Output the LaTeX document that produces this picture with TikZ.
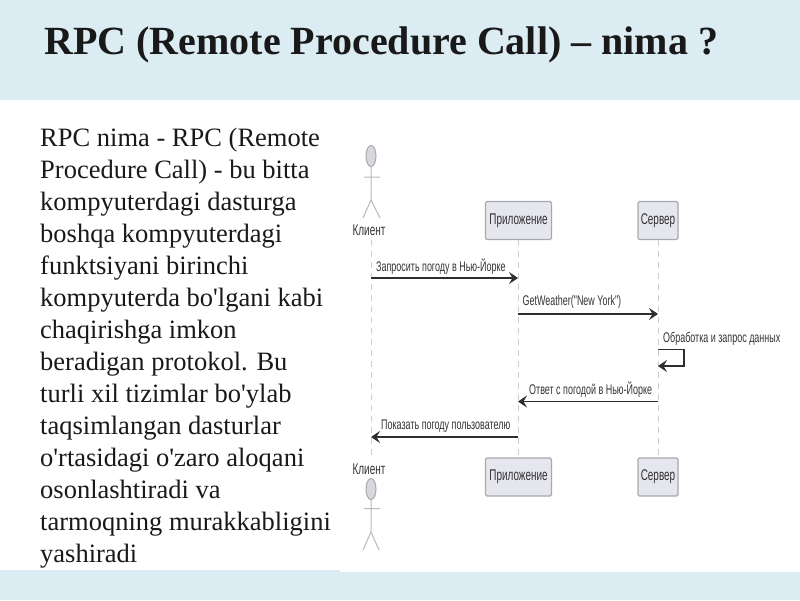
\documentclass[tikz,border=0pt]{standalone}
\usepackage{fontspec}
\setmainfont{Liberation Serif}
\newfontfamily\plainserif{Liberation Serif}
\newfontfamily\narrowsans[FakeStretch=0.64]{Liberation Sans}
\definecolor{band}{HTML}{DCECF3}
\definecolor{boxfill}{HTML}{E6E6EF}
\definecolor{boxedge}{HTML}{A8A8B0}
\definecolor{lifeline}{HTML}{CFCFCF}
\definecolor{seqtext}{HTML}{333333}
\definecolor{msgline}{HTML}{2E2E2E}
\tikzset{
  x=1pt,y=-1pt,
  seqbox/.style={draw=boxedge,fill=boxfill,rounded corners=1.5pt,line width=1.1pt,minimum height=38pt,inner sep=0pt,text=seqtext,font=\narrowsans\fontsize{15.5}{17}\selectfont},
  seqlabel/.style={text=seqtext,inner sep=0pt,font=\narrowsans\fontsize{14}{16}\selectfont},
  actorname/.style={text=seqtext,inner sep=0pt,font=\narrowsans\fontsize{15.5}{17}\selectfont},
  actorline/.style={draw=boxedge!80,line width=1pt},
  head/.style={draw=boxedge,fill=boxfill!70!gray!70,ellipse,minimum width=10pt,minimum height=21pt,inner sep=0pt,line width=1pt},
  life/.style={draw=lifeline,line width=1pt,dash pattern=on 6pt off 5pt},
  msg/.style={draw=msgline,line width=1.4pt,-{Stealth[length=9pt,width=12pt,inset=3.5pt]}},
}
\usetikzlibrary{arrows.meta,shapes.geometric}
\begin{document}
\begin{tikzpicture}
\useasboundingbox (0,0) rectangle (800,600);
\fill[band] (0,0) rectangle (800,600);
\fill[white] (0,100) rectangle (800,570);
\fill[white] (340,570) rectangle (800,572);
\node[anchor=west,inner sep=0pt,font=\bfseries\fontsize{40}{46}\selectfont,text=black!90] (title) at (44,45) {RPC (Remote Procedure Call) – nima ?};
\node[anchor=north west,inner sep=0pt,align=left,text=black!90,font=\plainserif\fontsize{26.5}{32}\selectfont] (body) at (40,128) {RPC nima - RPC (Remote\\Procedure Call) - bu bitta\\kompyuterdagi dasturga\\boshqa kompyuterdagi\\funktsiyani birinchi\\kompyuterda bo'lgani kabi\\chaqirishga imkon\\beradigan protokol. Bu\\turli xil tizimlar bo'ylab\\taqsimlangan dasturlar\\o'rtasidagi o'zaro aloqani\\osonlashtiradi va\\tarmoqning murakkabligini\\yashiradi};
% top client actor
\node[head] (headT) at (371,156) {};
\coordinate (armLT) at (364,177);
\coordinate (armRT) at (380,177);
\coordinate (hipT) at (371,200);
\coordinate (legLT) at (363,218);
\coordinate (legRT) at (380,218);
\draw[actorline] (headT.south) -- (hipT) -- (legLT) (hipT) -- (legRT) (armLT) -- (armRT);
\node[actorname] (clientT) at (369,230) {Клиент};
% bottom client actor
\node[actorname] (clientB) at (369,469) {Клиент};
\node[head] (headB) at (371,489) {};
\coordinate (armLB) at (364,508.5);
\coordinate (armRB) at (380,508.5);
\coordinate (hipB) at (371,532);
\coordinate (legLB) at (363,550);
\coordinate (legRB) at (379,550);
\draw[actorline] (headB.south) -- (hipB) -- (legLB) (hipB) -- (legRB) (armLB) -- (armRB);
% boxes
\node[seqbox,minimum width=66pt] (appT) at (518.5,220.5) {Приложение};
\node[seqbox,minimum width=40pt] (srvT) at (658,220.5) {Сервер};
\node[seqbox,minimum width=66pt] (appB) at (518.5,477) {Приложение};
\node[seqbox,minimum width=40pt] (srvB) at (658,477) {Сервер};
% lifelines
\coordinate (clientTop) at (371,240);
\coordinate (clientBot) at (371,459);
\draw[life] (clientTop) -- (clientBot);
\draw[life] (appT) -- (appB);
\draw[life] (srvT) -- (srvB);
% message anchors
\coordinate (c1) at (371,278);
\coordinate (a1) at (518,278);
\coordinate (a2) at (518,314);
\coordinate (s2) at (658,314);
\coordinate (s3) at (658,349.5);
\coordinate (s3r) at (684,349.5);
\coordinate (s3d) at (684,366);
\coordinate (s3e) at (658,366);
\coordinate (s4) at (658,401.5);
\coordinate (a4) at (518,401.5);
\coordinate (a5) at (518,437);
\coordinate (c5) at (371,437);
% messages
\draw[msg] (c1) -- (a1);
\draw[msg] (a2) -- (s2);
\draw[msg] (s3) -- (s3r) -- (s3d) -- (s3e);
\draw[msg] (s4) -- (a4);
\draw[msg] (a5) -- (c5);
\node[seqlabel,anchor=west] (m1) at (376,267) {Запросить погоду в Нью-Йорке};
\node[seqlabel,anchor=west] (m2) at (522.5,302) {GetWeather("New York")};
\node[seqlabel,anchor=west] (m3) at (663,339) {Обработка и запрос данных};
\node[seqlabel,anchor=west] (m4) at (529,390) {Ответ с погодой в Нью-Йорке};
\node[seqlabel,anchor=west] (m5) at (381,426) {Показать погоду пользователю};
\end{tikzpicture}
\end{document}
